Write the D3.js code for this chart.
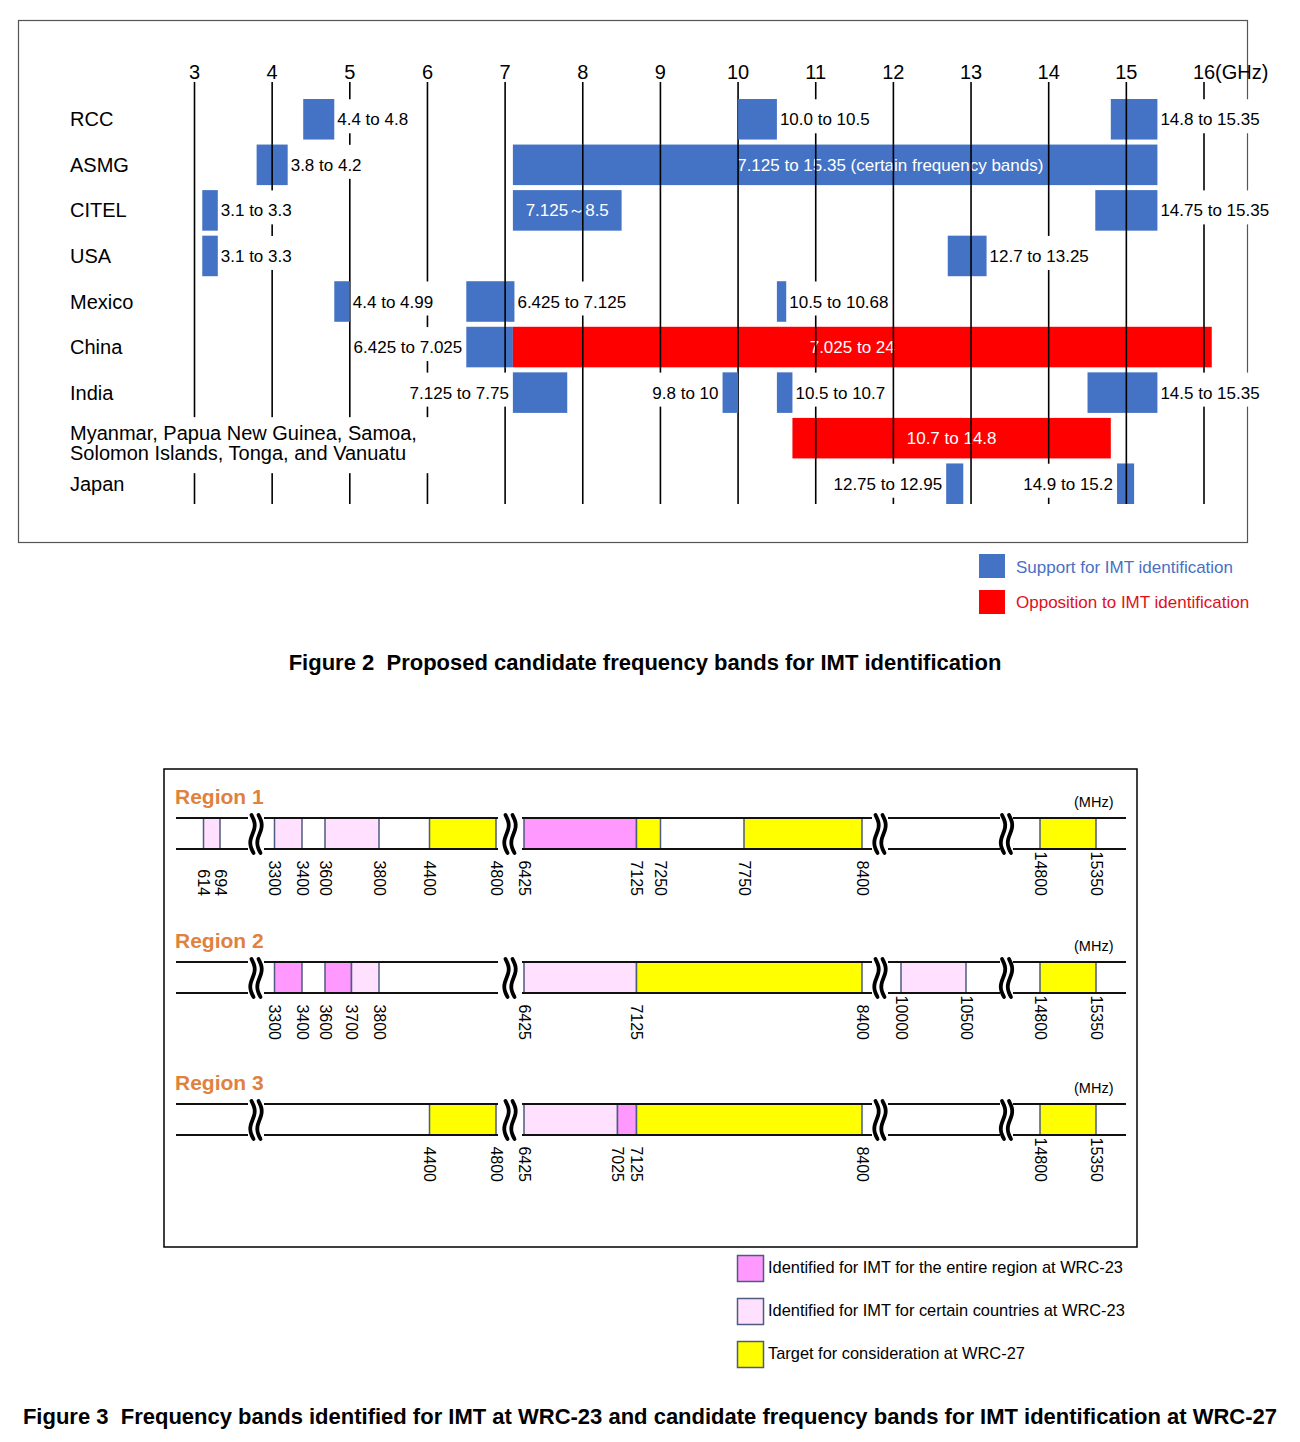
<!DOCTYPE html>
<html><head><meta charset="utf-8">
<script src="https://cdn.jsdelivr.net/npm/d3@7"></script>
<style>body{margin:0;background:#fff} svg{display:block;font-family:"Liberation Sans",Arial,sans-serif} .pre{white-space:pre}</style>
</head><body><svg id="c" width="1300" height="1442"></svg>
<script>
// ===== Figure 2 data =====
const rowNames = ["RCC","ASMG","CITEL","USA","Mexico","China","India",
  "Myanmar, Papua New Guinea, Samoa,\nSolomon Islands, Tonga, and Vanuatu","Japan"];
const ghzTicks = [3,4,5,6,7,8,9,10,11,12,13,14,15,16];
const bandRow    = [0,0,0, 1,1, 2,2,2, 3,3, 4,4,4, 5,5, 6,6,6,6, 7, 8,8];
const bandStart  = [4.4,10.0,14.8, 3.8,7.1, 3.1,7.1,14.6, 3.1,12.7, 4.8,6.5,10.5, 6.5,7.1, 7.1,9.8,10.5,14.5, 10.7, 12.68,14.88];
const bandEnd    = [4.8,10.5,15.4, 4.2,15.4, 3.3,8.5,15.4, 3.3,13.2, 5.0,7.12,10.62, 7.1,24, 7.8,10.0,10.7,15.4, 14.8, 12.9,15.1];
const bandStance = ["S","S","S", "S","S", "S","S","S", "S","S", "S","S","S", "S","O", "S","S","S","S", "O", "S","S"];
const bandLabel  = ["4.4 to 4.8","10.0 to 10.5","14.8 to 15.35",
  "3.8 to 4.2","7.125 to 15.35 (certain frequency bands)",
  "3.1 to 3.3","7.125～8.5","14.75 to 15.35",
  "3.1 to 3.3","12.7 to 13.25",
  "4.4 to 4.99","6.425 to 7.125","10.5 to 10.68",
  "6.425 to 7.025","7.025 to 24",
  "7.125 to 7.75","9.8 to 10","10.5 to 10.7","14.5 to 15.35",
  "10.7 to 14.8",
  "12.75 to 12.95","14.9 to 15.2"];
const labelSide  = ["R","R","R", "R","I", "R","I","R", "R","R", "R","R","R", "L","I", "L","L","R","R", "I", "L","L"];
const insideLabelAt = [null,null,null, null,11.96, null,null,null, null,null, null,null,null, null,11.47, null,null,null,null, null, null,null];
const displayMaxGHz = 16.1;
const stanceNames = ["Support for IMT identification","Opposition to IMT identification"];

// ===== Figure 3 data =====
const mhzStops = [470,614,694,1040, 3150,3300,3400,3600,3700,3800,4400,4800,4900,
  6380,6425,7025,7125,7250,7750,8400,8700, 9700,10000,10500,11100, 14500,14800,15350,15600];
const pxStops  = [176,203.5,220,248, 264,274.5,302,325,351.5,379,429.5,496,498,
  522,524,617.5,636.5,660.5,744,862,872, 888,901,966,1000, 1013,1040,1096,1126];
const stripSegments = [[470,1040],[3150,4900],[6380,8700],[9700,11100],[14500,15600]];
const region1Bands = [[614,694,"certain"],[3300,3400,"certain"],[3600,3800,"certain"],[4400,4800,"target"],
  [6425,7125,"entire"],[7125,7250,"target"],[7750,8400,"target"],[14800,15350,"target"]];
const region1Ticks = [614,694,3300,3400,3600,3800,4400,4800,6425,7125,7250,7750,8400,14800,15350];
const region2Bands = [[3300,3400,"entire"],[3600,3700,"entire"],[3700,3800,"certain"],[6425,7125,"certain"],
  [7125,8400,"target"],[10000,10500,"certain"],[14800,15350,"target"]];
const region2Ticks = [3300,3400,3600,3700,3800,6425,7125,8400,10000,10500,14800,15350];
const region3Bands = [[4400,4800,"target"],[6425,7025,"certain"],[7025,7125,"entire"],[7125,8400,"target"],[14800,15350,"target"]];
const region3Ticks = [4400,4800,6425,7025,7125,8400,14800,15350];
const kindOrder = ["entire","certain","target"];
const kindNames = ["Identified for IMT for the entire region at WRC-23","Identified for IMT for certain countries at WRC-23","Target for consideration at WRC-27"];

// ===== drawing =====
const svg = d3.select("#c");
const BLUE = "#4472c4", RED = "#ff0000";

// ---------- Figure 2 ----------
svg.append("rect").attr("x",18.5).attr("y",20.5).attr("width",1229).attr("height",522)
  .attr("fill","none").attr("stroke","#555").attr("stroke-width",1.2);

const x = d3.scaleLinear().domain([3,16]).range([194.5,1204]);
const y = d3.scaleBand().domain(rowNames).range([99,504]).paddingInner(0.11).paddingOuter(0);
const bw = y.bandwidth();
const gridTop = 82, gridBottom = y(rowNames[rowNames.length-1]) + bw;

const gGrid = svg.append("g"), gBg = svg.append("g"), gBars = svg.append("g"),
      gInside = svg.append("g"), gSeg = svg.append("g"), gText = svg.append("g");

gGrid.selectAll("line").data(ghzTicks).join("line")
  .attr("x1",d=>x(d)).attr("x2",d=>x(d)).attr("y1",gridTop).attr("y2",gridBottom)
  .attr("stroke","#000").attr("stroke-width",1.6);

// tick labels
svg.append("g").selectAll("text").data(ghzTicks).join("text")
  .attr("x",d=>x(d)).attr("y",79).attr("text-anchor","middle").attr("font-size",20)
  .text(d=>d);
svg.append("text").attr("x",x(16)+11).attr("y",79).attr("font-size",20).text("(GHz)");

// row labels
rowNames.forEach((name,i)=>{
  const lines = name.split("\n");
  const cy = y(name) + bw/2;
  const t = gText.append("text").attr("font-size",20).attr("fill","#000");
  if (lines.length === 1) {
    t.append("tspan").attr("x",70).attr("y",cy+7).text(lines[0]);
  } else {
    t.append("tspan").attr("x",70).attr("y",cy+2).text(lines[0]);
    t.append("tspan").attr("x",70).attr("y",cy+22).text(lines[1]);
    const bb = t.node().getBBox();
    gBg.append("rect").attr("x",bb.x-6).attr("y",bb.y-5).attr("width",bb.width+24).attr("height",bb.height+14)
      .attr("fill","#fff");
  }
});

// bars
const bars = bandStart.map((s,i)=>({row:rowNames[bandRow[i]], s, e:Math.min(bandEnd[i],displayMaxGHz),
  stance:bandStance[i], label:bandLabel[i], side:labelSide[i], at:insideLabelAt[i]}));

gBars.selectAll("rect").data(bars).join("rect")
  .attr("x",d=>x(d.s)).attr("width",d=>x(d.e)-x(d.s))
  .attr("y",d=>y(d.row)).attr("height",bw)
  .attr("fill",d=>d.stance==="S"?BLUE:RED);

// grid segments over bars
bars.forEach(d=>{
  ghzTicks.filter(t=>t>d.s && t<d.e).forEach(t=>{
    gSeg.append("line").attr("x1",x(t)).attr("x2",x(t)).attr("y1",y(d.row)).attr("y2",y(d.row)+bw)
      .attr("stroke","#000").attr("stroke-width",1.6);
  });
});

// labels
bars.forEach(d=>{
  const cy = y(d.row) + bw/2;
  if (d.side === "I") {
    const cx = d.at != null ? x(d.at) : (x(d.s)+x(d.e))/2;
    gInside.append("text").attr("x",cx).attr("y",cy+6).attr("text-anchor","middle")
      .attr("font-size",17).attr("fill","#fff").text(d.label);
  } else {
    const right = d.side === "R";
    const tx = right ? x(d.e)+3 : x(d.s)-4;
    const t = gText.append("text").attr("x",tx).attr("y",cy+6)
      .attr("text-anchor", right ? "start" : "end").attr("font-size",17).attr("fill","#000").text(d.label);
    const w = t.node().getComputedTextLength();
    gBg.append("rect").attr("x", right ? tx-1 : tx-w-1).attr("width",w+2)
      .attr("y",cy-20).attr("height",34).attr("fill","#fff");
  }
});

// legend (Figure 2)
const lg2 = svg.append("g");
[BLUE,RED].forEach((c,i)=>{
  lg2.append("rect").attr("x",979).attr("y",554+i*36).attr("width",26).attr("height",24).attr("fill",c);
  lg2.append("text").attr("x",1016).attr("y",573+i*35).attr("font-size",17)
    .attr("fill", i===0 ? "#4a70c2" : "#e0101a").text(stanceNames[i]);
});

svg.append("text").attr("class","pre").attr("x",645).attr("y",670).attr("text-anchor","middle")
  .attr("font-size",22).attr("font-weight","bold")
  .text("Figure 2  Proposed candidate frequency bands for IMT identification");

// ---------- Figure 3 ----------
svg.append("rect").attr("x",164).attr("y",769).attr("width",973).attr("height",478)
  .attr("fill","none").attr("stroke","#000").attr("stroke-width",1.5);

const xs = d3.scaleLinear().domain(mhzStops).range(pxStops);
const kindColor = d3.scaleOrdinal().domain(kindOrder).range(["#ff99ff","#ffe1ff","#ffff00"]);
const BOXSTROKE = "#4d5b80";
const stripH = 31;

const regions = [
  {name:"Region 1", top:818, bands:region1Bands, ticks:region1Ticks},
  {name:"Region 2", top:962, bands:region2Bands, ticks:region2Ticks},
  {name:"Region 3", top:1104, bands:region3Bands, ticks:region3Ticks}
];

const squiggleX = d3.range(stripSegments.length-1).map(i=>(xs(stripSegments[i][1])+xs(stripSegments[i+1][0]))/2);

regions.forEach(r=>{
  const g = svg.append("g");
  g.append("text").attr("x",175).attr("y",r.top-14).attr("font-size",21).attr("font-weight","bold")
    .attr("fill","#e0813e").text(r.name);
  g.append("text").attr("x",1074).attr("y",r.top-11).attr("font-size",14.5).attr("fill","#000").text("(MHz)");
  g.selectAll("rect.b").data(r.bands).join("rect").attr("class","b")
    .attr("x",d=>xs(d[0])).attr("width",d=>xs(d[1])-xs(d[0]))
    .attr("y",r.top).attr("height",stripH)
    .attr("fill",d=>kindColor(d[2])).attr("stroke",BOXSTROKE).attr("stroke-width",1.5);
  stripSegments.forEach(sg=>{
    [r.top, r.top+stripH].forEach(yy=>{
      g.append("line").attr("x1",xs(sg[0])).attr("x2",xs(sg[1])).attr("y1",yy).attr("y2",yy)
        .attr("stroke","#111").attr("stroke-width",2);
    });
  });
  // break marks
  const wave = d3.line().curve(d3.curveBasis);
  squiggleX.forEach(cx=>{
    [-3.5,3.5].forEach(off=>{
      const pts = d3.range(0,1.0001,0.125).map(t=>[cx+off+3*Math.sin(2*Math.PI*t)+ (t-0.5)*2, r.top-3+t*(stripH+7)]);
      g.append("path").attr("d",wave(pts)).attr("fill","none").attr("stroke","#000").attr("stroke-width",3.8)
        .attr("stroke-linecap","round");
    });
  });
  // tick labels
  g.selectAll("text.t").data(r.ticks).join("text").attr("class","t")
    .attr("transform",d=>`translate(${xs(d)},${r.top+stripH+47}) rotate(90)`)
    .attr("text-anchor","end").attr("dominant-baseline","central").attr("font-size",16).text(d=>d);
});

// legend (Figure 3)
const lg3 = svg.append("g");
kindOrder.forEach((k,i)=>{
  lg3.append("rect").attr("x",737.5).attr("y",1255.5+i*43).attr("width",26).attr("height",26)
    .attr("fill",kindColor(k)).attr("stroke",BOXSTROKE).attr("stroke-width",1.5);
  lg3.append("text").attr("x",768).attr("y",1273+i*43).attr("font-size",16.4).attr("fill","#000").text(kindNames[i]);
});

svg.append("text").attr("class","pre").attr("x",650).attr("y",1424).attr("text-anchor","middle")
  .attr("font-size",22).attr("font-weight","bold")
  .text("Figure 3  Frequency bands identified for IMT at WRC-23 and candidate frequency bands for IMT identification at WRC-27");
</script></body></html>
